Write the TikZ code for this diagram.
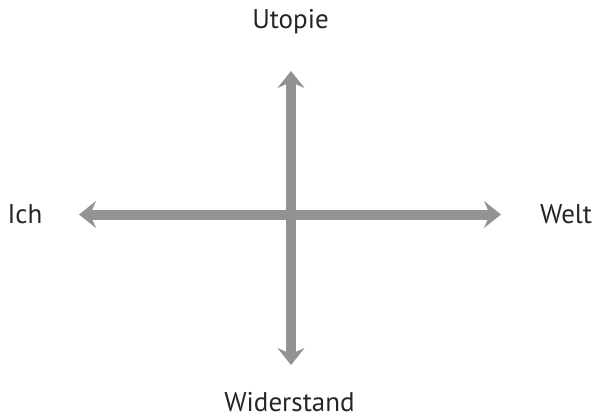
\documentclass[tikz,border=0pt]{standalone}
\usepackage{fontspec}
\setmainfont{PT Sans}
\usetikzlibrary{arrows.meta}
\begin{document}
\begin{tikzpicture}[x=1pt,y=-1pt,
  axis/.style={line width=10pt,draw=axisgray,
    arrows={Stealth[length=17pt,width=27pt,inset=6pt]-Stealth[length=17pt,width=27pt,inset=6pt]}},
  lbl/.style={font=\fontsize{27}{32}\selectfont,text=black!85,inner sep=0pt}]
\definecolor{axisgray}{HTML}{939393}
\useasboundingbox (0,0) rectangle (597,417);
\coordinate (top) at (291,71);
\coordinate (bot) at (291,365);
\coordinate (lft) at (79,214.5);
\coordinate (rgt) at (501,214.5);
\draw[axis] (lft) -- (rgt);
\draw[axis] (bot) -- (top);
\node[lbl,anchor=base] (u) at (290.5,29) {Utopie};
\node[lbl,anchor=base] (i) at (25,223) {Ich};
\node[lbl,anchor=base] (w) at (566,223) {Welt};
\node[lbl,anchor=base] (d) at (289.5,411) {Widerstand};
\end{tikzpicture}
\end{document}
